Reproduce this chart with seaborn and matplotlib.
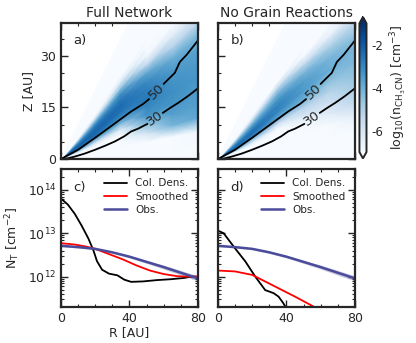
"""
CH3CN 分布与柱密度对比 (Full Network vs No Grain Reactions)
"""
import numpy as np
import matplotlib
matplotlib.use('Agg')
import matplotlib.pyplot as plt
import seaborn as sns
from matplotlib.ticker import MultipleLocator

# ---- 上排: log10 n(CH3CN) 在 (R, Z/R) 网格上读取的值 ----
R_nodes = [0, 5, 10, 20, 35, 50, 65, 80]
zr_nodes = [0.0, 0.1, 0.15, 0.2, 0.25, 0.3, 0.35, 0.4, 0.45, 0.5, 0.55, 0.6, 0.65, 0.7, 1.0]

# 每个列表对应一个 R (R_nodes), 元素对应 z/r (zr_nodes)
logn_full_cols = [
    [-9, -9, -8, -6, -3.5, -2.4, -2.2, -2.3, -2.8, -4.0, -5.5, -7, -8, -8, -8],
    [-9, -9, -8, -6, -3.5, -2.4, -2.2, -2.3, -2.8, -4.0, -5.5, -7, -8, -8, -8],
    [-9, -9, -8.5, -6.5, -4.0, -2.5, -2.2, -2.3, -2.8, -3.8, -5.2, -6.8, -8, -8, -8],
    [-9, -9, -9, -7.5, -5.5, -3.4, -2.4, -2.2, -2.4, -2.9, -4.2, -6, -7.5, -8, -8],
    [-9, -9, -9, -8.5, -6.0, -4.2, -3.0, -2.5, -2.4, -2.7, -3.3, -4.8, -6.3, -7.5, -8],
    [-9, -8.5, -6, -4.5, -3.3, -3.0, -2.7, -2.8, -3.1, -3.8, -5.5, -6.8, -7.5, -8, -8],
    [-9, -7, -4.2, -3.6, -3.3, -3.2, -3.3, -3.5, -4.0, -5.2, -6.3, -7.2, -7.8, -8, -8],
    [-9, -6.8, -3.8, -3.6, -3.5, -3.4, -3.5, -3.7, -4.3, -5.5, -6.5, -7.2, -7.8, -8, -8],
]
logn_nograin_cols = [
    [-9, -9, -8.5, -6.5, -4.0, -2.6, -2.4, -2.8, -3.6, -4.8, -6.5, -8, -8, -8, -8],
    [-9, -9, -8.5, -6.5, -4.0, -2.6, -2.4, -2.8, -3.6, -4.8, -6.5, -8, -8, -8, -8],
    [-9, -9, -8.5, -7, -4.5, -2.7, -2.3, -2.7, -3.5, -4.5, -6, -7.5, -8, -8, -8],
    [-9, -9, -9, -8, -6, -4.0, -2.6, -2.4, -2.9, -3.8, -5.0, -6.5, -7.8, -8, -8],
    [-9, -9, -9, -8.5, -7, -5.5, -3.6, -2.9, -2.9, -3.4, -4.2, -5.5, -7, -8, -8],
    [-9, -9, -8, -7, -6, -5.2, -4.0, -3.5, -3.6, -4.2, -5.5, -7, -8, -8, -8],
    [-9, -8.5, -7, -6.3, -5.8, -5.2, -4.5, -4.0, -4.2, -5.0, -6.5, -7.5, -8, -8, -8],
    [-9, -8, -6.5, -5.5, -5.0, -4.6, -4.3, -4.2, -4.6, -5.5, -6.5, -7.5, -8, -8, -8],
]

# 温度等值线 (50 K, 30 K), 在标注处断开
t50_in_R = [0, 10, 20, 30, 41, 48, 51.5]
t50_in_Z = [0, 2.7, 6.2, 9.8, 13.8, 16.0, 17.4]
t50_out_R = [60, 62, 66.5, 69.5, 73.5, 80]
t50_out_Z = [21.8, 22.8, 25.0, 28.2, 30.3, 34.4]
t30_in_R = [0, 4, 8, 14, 20, 26, 31.5, 37, 41, 45, 50.5]
t30_in_Z = [0, 0.2, 0.7, 1.6, 2.7, 3.9, 5.1, 6.6, 8.0, 8.8, 10.2]
t30_out_R = [59.5, 64, 68.5, 74, 80]
t30_out_Z = [13.4, 14.9, 16.3, 18.2, 20.5]
t50_label = (55.8, 19.6, 44)
t30_label = (55.0, 11.8, 34)

# ---- 下排: 柱密度 log10 N_T ----
col_R_full = [0, 4, 8, 12, 16, 19, 21, 24, 28, 33, 37, 41, 48, 56, 64, 72, 76, 80]
col_N_full = [13.80, 13.66, 13.45, 13.18, 12.88, 12.60, 12.36, 12.16, 12.07, 12.03,
              11.93, 11.88, 11.89, 11.92, 11.94, 11.97, 12.0, 12.0]
smo_R_full = [0, 8, 15, 20, 28, 36, 44, 52, 60, 68, 74, 80]
smo_N_full = [12.77, 12.74, 12.69, 12.64, 12.52, 12.40, 12.26, 12.14, 12.06, 12.01, 12.0, 12.0]

col_R_ng = [0, 3.3, 10, 16, 21.8, 27.6, 32.5, 35.4, 38, 40, 42]
col_N_ng = [13.06, 13.0, 12.65, 12.35, 12.0, 11.69, 11.62, 11.54, 11.40, 11.27, 11.1]
smo_R_ng = [0, 10, 20, 31.5, 45, 57.8, 62]
smo_N_ng = [12.14, 12.12, 12.04, 11.81, 11.54, 11.27, 11.18]

obs_R = [0, 10, 20, 30, 40, 50, 60, 70, 80]
obs_N = [12.71, 12.68, 12.64, 12.56, 12.46, 12.34, 12.22, 12.09, 11.96]
obs_err = [0.02, 0.02, 0.02, 0.025, 0.03, 0.035, 0.045, 0.055, 0.06]

titles = ['Full Network', 'No Grain Reactions']
panel_tags = ['a)', 'b)', 'c)', 'd)']

sns.set_style('ticks')
plt.rcParams['font.family'] = ['DejaVu Sans']
plt.rcParams['axes.unicode_minus'] = False
plt.rcParams['axes.linewidth'] = 1.6
plt.rcParams['mathtext.default'] = 'regular'

fig = plt.figure(figsize=(4.16, 3.43), dpi=100)
w = 0.329
ax_a = fig.add_axes([0.1466, 0.5364, w, 0.3965])
ax_b = fig.add_axes([0.524, 0.5364, w, 0.3965])
ax_c = fig.add_axes([0.1466, 0.105, w, 0.402])
ax_d = fig.add_axes([0.524, 0.105, w, 0.402])
cax = fig.add_axes([0.864, 0.538, 0.017, 0.4125])

RR, ZR = np.meshgrid(R_nodes, zr_nodes)
ZZ = RR * ZR

for ax, cols, title, tag in zip([ax_a, ax_b], [logn_full_cols, logn_nograin_cols],
                                titles, panel_tags[:2]):
    field = np.array(cols, dtype=float).T
    mesh = ax.pcolormesh(RR, ZZ, field, cmap='Blues', vmin=-7, vmax=-1,
                         shading='gouraud', rasterized=True)
    ax.plot(t50_in_R, t50_in_Z, color='k', lw=1.3)
    ax.plot(t50_out_R, t50_out_Z, color='k', lw=1.3)
    ax.plot(t30_in_R, t30_in_Z, color='k', lw=1.3)
    ax.plot(t30_out_R, t30_out_Z, color='k', lw=1.3)
    for (x, y, rot), txt in zip([t50_label, t30_label], ['50', '30']):
        ax.text(x, y, txt, rotation=rot, ha='center', va='center',
                rotation_mode='anchor', fontsize=9.5)
    ax.set_xlim(0, 80)
    ax.set_ylim(0, 39.5)
    ax.yaxis.set_major_locator(MultipleLocator(15))
    ax.yaxis.set_minor_locator(MultipleLocator(5))
    ax.set_title(title, fontsize=10, pad=4)
    ax.text(0.09, 0.87, tag, transform=ax.transAxes, fontsize=9.5, va='center')
    ax.tick_params(labelbottom=False)

ax_a.set_ylabel('Z [AU]', fontsize=9)
ax_b.tick_params(labelleft=False)

cb = fig.colorbar(mesh, cax=cax, extend='both', ticks=[-2, -4, -6])
cb.ax.set_yticklabels(['-2', '-4', '-6'])
cb.ax.tick_params(labelsize=8.5, direction='in', length=3, width=0.8)
cb.outline.set_linewidth(1.4)
cb.set_label(r'log$_{10}$(n$_{\rm CH_3CN}$) [cm$^{-3}$]', fontsize=9)

obs_color = '#4B4B9B'
for ax, cR, cN, sR, sN, tag in zip([ax_c, ax_d],
                                    [col_R_full, col_R_ng], [col_N_full, col_N_ng],
                                    [smo_R_full, smo_R_ng], [smo_N_full, smo_N_ng],
                                    panel_tags[2:]):
    sns.lineplot(x=cR, y=10 ** np.array(cN), color='k', lw=1.3, ax=ax, label='Col. Dens.')
    sns.lineplot(x=sR, y=10 ** np.array(sN), color='red', lw=1.3, ax=ax, label='Smoothed')
    lo = 10 ** (np.array(obs_N) - np.array(obs_err))
    hi = 10 ** (np.array(obs_N) + np.array(obs_err))
    ax.fill_between(obs_R, lo, hi, color=obs_color, alpha=0.3, lw=0)
    sns.lineplot(x=obs_R, y=10 ** np.array(obs_N), color=obs_color, lw=1.8, ax=ax, label='Obs.')
    ax.set_yscale('log')
    ax.set_xlim(0, 80)
    ax.set_ylim(2e11, 3e14)
    ax.legend(loc='upper right', frameon=False, fontsize=7.5, handlelength=2.2,
              borderaxespad=0.5, labelspacing=0.3)
    ax.text(0.09, 0.87, tag, transform=ax.transAxes, fontsize=9.5, va='center')

ax_c.set_xlabel('R [AU]', fontsize=9, labelpad=1)
ax_c.set_ylabel(r'N$_{\rm T}$ [cm$^{-2}$]', fontsize=9)
ax_d.tick_params(labelleft=False, which='both')

for ax in [ax_a, ax_b, ax_c, ax_d]:
    ax.xaxis.set_major_locator(MultipleLocator(40))
    ax.xaxis.set_minor_locator(MultipleLocator(10))
    ax.tick_params(which='both', direction='in', top=True, right=True, labelsize=9)
    ax.tick_params(which='major', length=5, width=1.0)
    ax.tick_params(which='minor', length=2.5, width=0.8)

fig.savefig('out.png', dpi=100)
